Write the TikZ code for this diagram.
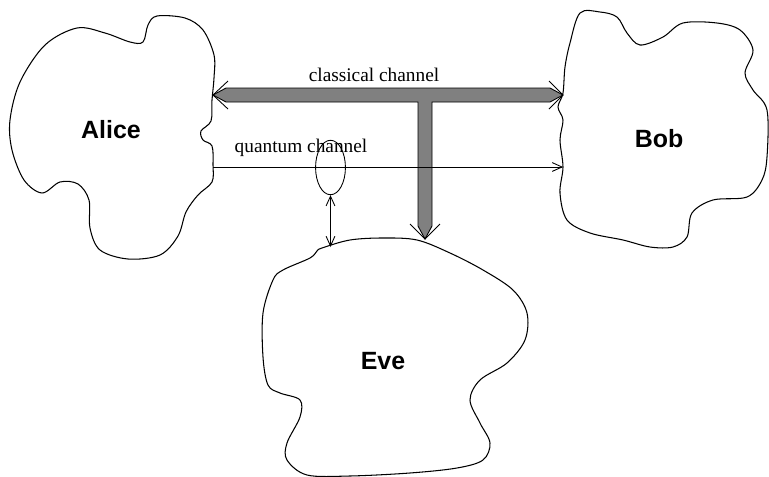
\documentclass[tikz,border=0pt]{standalone}
\usepackage{fontspec}
\setmainfont{Liberation Serif}
\newfontfamily\namefont{Liberation Sans}
\usetikzlibrary{arrows.meta,shapes.geometric}

\tikzset{
    blob/.style={draw, line width=0.6pt, smooth cycle, tension=0.55},
    party/.style={font=\namefont\fontsize{14.2}{17}\selectfont\bfseries, anchor=base},
    chanlabel/.style={font=\fontsize{11}{13}\selectfont, anchor=base},
    barb/.tip={Straight Barb[length=5.5pt, width=5pt]},
    thinarrow/.style={line width=0.5pt, -barb},
    thinboth/.style={line width=0.5pt, barb-barb},
    band/.style={fill=gray, draw=black, line width=0.5pt, line join=miter},
}

\begin{document}
\begin{tikzpicture}[x={(0.02cm,0)}, y={(0,-0.02cm)}]
    \useasboundingbox (0,0) rectangle (769,477);

    % Alice
    \draw[blob] plot coordinates {(157,16) (185,18) (203,30) (214,55) (214,78) (212,100)
        (211,121) (201,131) (203,140) (212,146) (213,165) (212,182) (198,195) (186,212)
        (178,236) (160,255) (128,259) (100,250) (90,228) (89,200) (78,184) (60,182)
        (42,193) (24,180) (12,150) (10,120) (20,82) (45,45) (77,28) (105,33) (130,42)
        (143,42) (148,25)};
    \node[party] (alice) at (111,138) {Alice};

    % Bob
    \draw[blob] plot coordinates {(580,13) (600,12) (617,17) (627,33) (640,45) (663,37)
        (683,23) (717,23) (740,30) (753,50) (745,73) (753,90) (767,110) (767,157)
        (762,180) (747,197) (713,200) (692,213) (687,237) (673,247) (650,247) (623,240)
        (590,233) (567,220) (560,193) (563,167) (560,140) (563,120) (558,107) (563,93)
        (565,67) (570,43)};
    \node[party] (bob) at (659,147) {Bob};

    % Eve
    \draw[blob] plot coordinates {(322,248) (350,240) (383,238) (417,240) (450,253)
        (483,270) (513,290) (527,313) (525,340) (507,363) (480,380) (470,400) (480,423)
        (490,443) (483,460) (457,468) (410,473) (350,476) (307,475) (287,460) (287,443)
        (300,417) (300,400) (280,393) (268,385) (263,357) (263,313) (273,280) (283,270)
        (310,258) (317,251)};
    \node[party] (eve) at (383,369) {Eve};

    % Classical channel (broad T-shaped arrow)
    \coordinate (cl-left) at (213,95);
    \coordinate (cl-right) at (563,95);
    \coordinate (cl-down) at (425,239);
    \draw[band] (cl-left) -- (226,88) -- (550,88) -- (cl-right) -- (550,102) -- (432,102)
        -- (432,226) -- (cl-down) -- (418,226) -- (418,102) -- (226,102) -- cycle;
    \draw[line width=0.5pt] (228,81) -- (cl-left) -- (228,109);
    \draw[line width=0.5pt] (549,81) -- (cl-right) -- (549,109);
    \draw[line width=0.5pt] (410,224) -- (cl-down) -- (440,224);
    \node[chanlabel] (clabel) at (374,81) {classical channel};

    % Quantum channel
    \coordinate (q-start) at (213,167);
    \coordinate (q-end) at (563,167);
    \draw[thinarrow] (q-start) -- (q-end);
    \node[chanlabel] (qlabel) at (301,152) {quantum channel};

    % Eavesdropping tap
    \node[draw, ellipse, line width=0.5pt, minimum width=17, minimum height=31,
        inner sep=0pt] (tap) at (330.5,167.5) {};
    \coordinate (eve-top) at (330.5,247);
    \draw[thinboth] (tap.south) -- (eve-top);

\end{tikzpicture}
\end{document}
